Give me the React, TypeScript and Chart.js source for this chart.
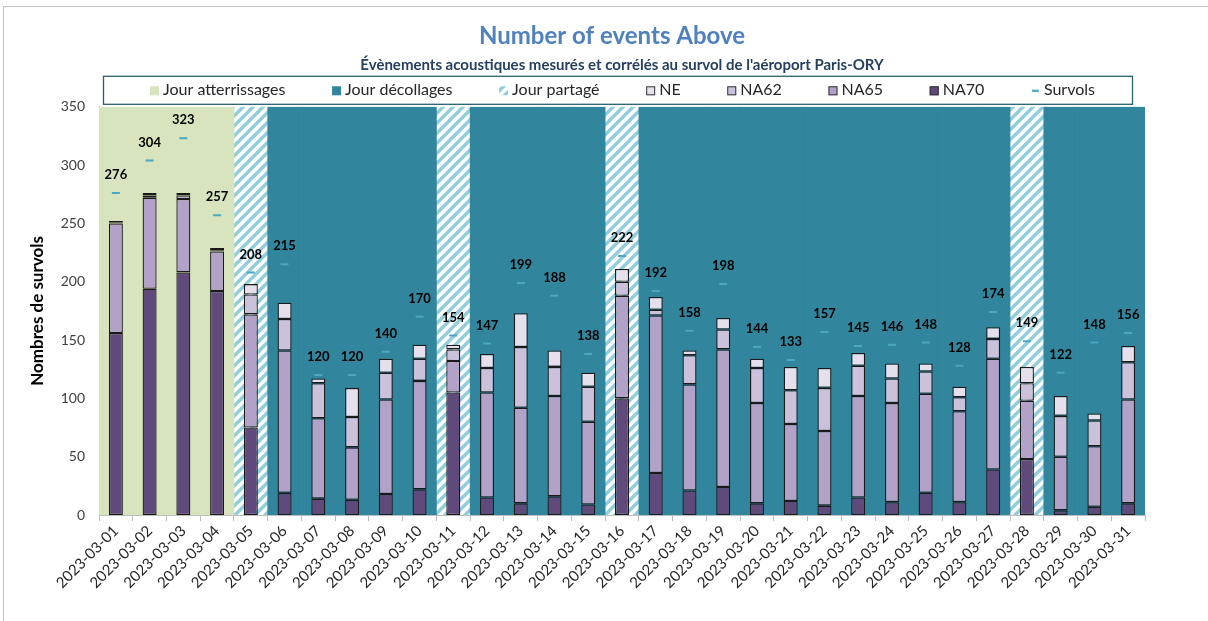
import React, { useEffect, useRef } from "react";
import { Chart, registerables } from "chart.js";

Chart.register(...registerables);

// ---------- data ----------
const categories = [
  "2023-03-01", "2023-03-02", "2023-03-03", "2023-03-04", "2023-03-05", "2023-03-06",
  "2023-03-07", "2023-03-08", "2023-03-09", "2023-03-10", "2023-03-11", "2023-03-12",
  "2023-03-13", "2023-03-14", "2023-03-15", "2023-03-16", "2023-03-17", "2023-03-18",
  "2023-03-19", "2023-03-20", "2023-03-21", "2023-03-22", "2023-03-23", "2023-03-24",
  "2023-03-25", "2023-03-26", "2023-03-27", "2023-03-28", "2023-03-29", "2023-03-30",
  "2023-03-31",
];

// A = Jour atterrissages, D = Jour décollages, S = Jour partagé
const dayType = [
  "A", "A", "A", "A", "S", "D", "D", "D", "D", "D", "S", "D", "D", "D", "D", "S",
  "D", "D", "D", "D", "D", "D", "D", "D", "D", "D", "D", "S", "D", "D", "D",
];

const survols = [
  276, 304, 323, 257, 208, 215, 120, 120, 140, 170, 154, 147, 199, 188, 138, 222,
  192, 158, 198, 144, 133, 157, 145, 146, 148, 128, 174, 149, 122, 148, 156,
];

// cumulative counts (NE >= NA62 >= NA65 >= NA70)
const ne = [
  252, 276, 276, 229, 198, 182, 117, 109, 134, 146, 146, 138, 173, 141, 122, 211,
  187, 141, 169, 134, 127, 126, 139, 130, 130, 110, 161, 127, 102, 87, 145,
];
const na62 = [
  251, 274, 274, 227, 189, 168, 113, 84, 122, 134, 142, 126, 144, 127, 110, 200,
  176, 137, 159, 126, 107, 109, 128, 117, 123, 101, 151, 113, 85, 81, 131,
];
const na65 = [
  250, 272, 271, 226, 172, 141, 83, 58, 99, 115, 132, 105, 92, 102, 80, 188,
  171, 112, 142, 96, 78, 72, 102, 96, 104, 89, 134, 98, 50, 59, 99,
];
const na70 = [
  156, 194, 208, 192, 75, 19, 14, 13, 18, 22, 105, 15, 10, 16, 9, 100,
  36, 21, 24, 10, 12, 8, 15, 11, 19, 11, 39, 48, 4, 7, 10,
];

const yMax = 350;
const yStep = 50;

const titleText = "Number of events Above";
const subtitleText =
  "Évènements acoustiques mesurés et corrélés au survol de l'aéroport Paris-ORY";
const yTitle = "Nombres de survols";

// ---------- styles ----------
const FONT = "Lato, 'Open Sans', sans-serif";
const C_GREEN = "#d7e4bd";
const C_TEAL = "#31859c";
const C_HATCH = "#92cddc";
const C_NE = "#e6e0ec";
const C_NA62 = "#ccc1da";
const C_NA65 = "#b3a2c7";
const C_NA70 = "#604a7b";
const C_SURV = "#4ba7c2";
const C_EDGE = "#1a1a1a";

function makeHatch(ctx: CanvasRenderingContext2D): CanvasPattern | string {
  const s = 10;
  const tile = document.createElement("canvas");
  tile.width = s;
  tile.height = s;
  const t = tile.getContext("2d");
  if (!t) return C_HATCH;
  t.fillStyle = "#ffffff";
  t.fillRect(0, 0, s, s);
  t.strokeStyle = C_HATCH;
  t.lineWidth = 3.4;
  t.lineCap = "square";
  const seg = (x1: number, y1: number, x2: number, y2: number) => {
    t.beginPath();
    t.moveTo(x1, y1);
    t.lineTo(x2, y2);
    t.stroke();
  };
  seg(-s / 2, s / 2, s / 2, -s / 2);
  seg(0, s, s, 0);
  seg(s / 2, s * 1.5, s * 1.5, s / 2);
  return ctx.createPattern(tile, "repeat") || C_HATCH;
}

// nudge the main title slightly left, as in the reference
const titleShiftPlugin = {
  id: "titleShift",
  afterLayout(chart: any) {
    const t = chart.titleBlock;
    if (t) {
      t.left -= 10;
      t.right -= 10;
    }
  },
};

const survolsLabelPlugin = {
  id: "survolsLabels",
  afterDatasetsDraw(chart: any) {
    const idx = chart.data.datasets.findIndex((d: any) => d.id === "survols");
    if (idx < 0) return;
    const meta = chart.getDatasetMeta(idx);
    const ctx = chart.ctx;
    ctx.save();
    ctx.font = `bold 13px ${FONT}`;
    ctx.fillStyle = "#000000";
    ctx.textAlign = "center";
    ctx.textBaseline = "middle";
    meta.data.forEach((el: any, i: number) => {
      ctx.fillText(String(survols[i]), el.x, el.y - 18);
    });
    ctx.restore();
  },
};

const boxLegendPlugin = {
  id: "boxLegend",
  afterDraw(chart: any) {
    const ctx = chart.ctx as CanvasRenderingContext2D;
    const ca = chart.chartArea;
    const hatch = chart.$hatch;
    const left = ca.left + 4;
    const right = ca.right - 13;
    const top = ca.top - 31;
    const bottom = ca.top - 3;
    ctx.save();
    ctx.strokeStyle = "#2c5f6e";
    ctx.lineWidth = 1.3;
    ctx.strokeRect(left + 0.5, top + 0.5, right - left, bottom - top);

    const items = [
      { text: "Jour atterrissages", kind: "fill", color: C_GREEN },
      { text: "Jour décollages", kind: "fill", color: C_TEAL },
      { text: "Jour partagé", kind: "hatch", color: C_HATCH },
      { text: "NE", kind: "box", color: C_NE },
      { text: "NA62", kind: "box", color: C_NA62 },
      { text: "NA65", kind: "box", color: C_NA65 },
      { text: "NA70", kind: "box", color: C_NA70 },
      { text: "Survols", kind: "dash", color: C_SURV },
    ];
    ctx.font = `16px ${FONT}`;
    const box = 9;
    const gapText = 4;
    const widths = items.map((it) => box + gapText + ctx.measureText(it.text).width);
    const startX = ca.left + 51;
    const endX = ca.right - 50;
    const sum = widths.reduce((a, b) => a + b, 0);
    const gap = (endX - startX - sum) / (items.length - 1);
    const cy = ca.top - 17;
    let x = startX;
    items.forEach((it, i) => {
      const by = cy - box / 2 + 1;
      if (it.kind === "fill") {
        ctx.fillStyle = it.color;
        ctx.fillRect(x, by, box, box);
      } else if (it.kind === "hatch") {
        ctx.fillStyle = hatch || it.color;
        ctx.fillRect(x, by, box, box);
      } else if (it.kind === "box") {
        ctx.fillStyle = it.color;
        ctx.fillRect(x, by, box, box);
        ctx.strokeStyle = "#333333";
        ctx.lineWidth = 1;
        ctx.strokeRect(x + 0.5, by + 0.5, box - 1, box - 1);
      } else {
        ctx.strokeStyle = it.color;
        ctx.lineWidth = 2.2;
        ctx.beginPath();
        ctx.moveTo(x + 1, cy + 1);
        ctx.lineTo(x + 8, cy + 1);
        ctx.stroke();
      }
      ctx.fillStyle = "#262626";
      ctx.textAlign = "left";
      ctx.textBaseline = "middle";
      ctx.fillText(it.text, x + box + gapText, cy);
      x += widths[i] + gap;
    });
    ctx.restore();
  },
};

export default function App() {
  const canvasRef = useRef<HTMLCanvasElement | null>(null);

  useEffect(() => {
    const canvas = canvasRef.current;
    if (!canvas) return;
    const ctx = canvas.getContext("2d");
    if (!ctx) return;
    const hatch = makeHatch(ctx);

    const bgData = (type: string) => dayType.map((t) => (t === type ? yMax : null));
    const diff = (a: number[], b: number[]) => a.map((v, i) => v - b[i]);

    const bgCommon = {
      xAxisID: "x2",
      stack: "bg",
      order: 3,
      grouped: false,
      barPercentage: 1,
      categoryPercentage: 1,
      borderWidth: 0,
    };
    const barCommon = {
      xAxisID: "x",
      stack: "main",
      order: 1,
      grouped: false,
      barPercentage: 0.415,
      categoryPercentage: 1,
      borderWidth: 1.3,
      borderColor: C_EDGE,
      borderSkipped: false,
    };

    const chart = new Chart(ctx, {
      type: "bar",
      data: {
        labels: categories,
        datasets: [
          { ...bgCommon, label: "Jour atterrissages", data: bgData("A"), backgroundColor: C_GREEN },
          { ...bgCommon, label: "Jour décollages", data: bgData("D"), backgroundColor: C_TEAL },
          { ...bgCommon, label: "Jour partagé", data: bgData("S"), backgroundColor: hatch },
          { ...barCommon, label: "NA70", data: na70, backgroundColor: C_NA70 },
          { ...barCommon, label: "NA65", data: diff(na65, na70), backgroundColor: C_NA65 },
          { ...barCommon, label: "NA62", data: diff(na62, na65), backgroundColor: C_NA62 },
          { ...barCommon, label: "NE", data: diff(ne, na62), backgroundColor: C_NE },
          {
            type: "line",
            id: "survols",
            label: "Survols",
            data: survols,
            xAxisID: "x",
            order: 0,
            showLine: false,
            pointStyle: "line",
            pointRadius: 4,
            pointHoverRadius: 4,
            pointBorderWidth: 2,
            borderColor: C_SURV,
            backgroundColor: C_SURV,
          } as any,
        ],
      },
      options: {
        responsive: false,
        animation: false,
        events: [],
        layout: { padding: { top: 8, left: 4, right: 63, bottom: 0 } },
        plugins: {
          legend: { display: false },
          tooltip: { enabled: false },
          title: {
            display: true,
            text: titleText,
            color: "#4f81bd",
            font: { family: FONT, size: 24, weight: "bold" },
            padding: { top: 14, bottom: 3 },
            fullSize: false,
          },
          subtitle: {
            display: true,
            text: subtitleText,
            color: "#243f60",
            font: { family: FONT, size: 15, weight: "bold" },
            padding: { top: 2, bottom: 33 },
            fullSize: false,
          },
        },
        scales: {
          x: {
            type: "category",
            stacked: true,
            offset: true,
            grid: {
              display: true,
              offset: true,
              drawOnChartArea: false,
              drawTicks: true,
              tickLength: 6,
              color: "#bfbfbf",
            },
            border: { display: true, color: "#bfbfbf" },
            ticks: {
              autoSkip: false,
              maxRotation: 45,
              minRotation: 45,
              font: { family: FONT, size: 15 },
              color: "#262626",
              padding: 1,
            },
            afterFit: (s: any) => {
              s.height = 106;
            },
          },
          x2: {
            type: "category",
            labels: categories,
            display: false,
            stacked: true,
            offset: true,
            grid: { offset: true },
          },
          y: {
            stacked: true,
            min: 0,
            max: yMax,
            ticks: {
              stepSize: yStep,
              font: { family: FONT, size: 14 },
              color: "#404040",
              padding: 14,
            },
            grid: { display: false, drawTicks: false },
            border: { display: true, color: "#bfbfbf" },
            title: {
              display: true,
              text: yTitle,
              color: "#000000",
              font: { family: FONT, size: 17, weight: "bold" },
              padding: { top: 23, bottom: 0 },
            },
            afterFit: (s: any) => {
              s.width = 95;
            },
          },
        },
      } as any,
      plugins: [titleShiftPlugin, survolsLabelPlugin, boxLegendPlugin],
    });
    (chart as any).$hatch = hatch;
    chart.draw();

    return () => {
      chart.destroy();
    };
  }, []);

  return (
    <div
      style={{
        position: "fixed",
        left: 0,
        top: 0,
        width: 1208,
        height: 621,
        overflow: "hidden",
        background: "#ffffff",
      }}
    >
      <div
        style={{
          position: "absolute",
          left: 3,
          top: 6,
          width: 1400,
          height: 800,
          border: "1.5px solid #c4c4c4",
          boxSizing: "border-box",
        }}
      />
      <canvas
        ref={canvasRef}
        width={1208}
        height={621}
        style={{ position: "absolute", left: 0, top: 0, display: "block" }}
      />
    </div>
  );
}
